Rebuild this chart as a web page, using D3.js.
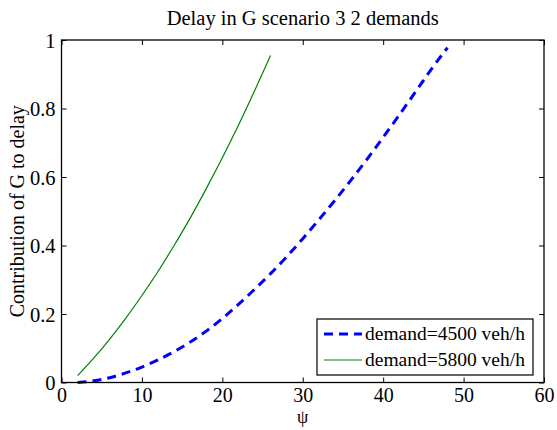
<!DOCTYPE html>
<html>
<head>
<meta charset="utf-8">
<script src="https://cdn.jsdelivr.net/npm/d3@7/dist/d3.min.js"></script>
<style>
  html, body { margin: 0; padding: 0; background: #fff; }
  svg { display: block; }
  text { font-family: "Liberation Serif", "Times New Roman", serif; fill: #000; }
</style>
</head>
<body>
<svg id="chart" width="557" height="430"></svg>
<script>
// ---- data ----
const title = "Delay in G scenario 3 2 demands";
const xLabel = "\u03C8";
const yLabel = "Contribution of G to delay";
const xTicks = [0, 10, 20, 30, 40, 50, 60];
const yTicks = [0, 0.2, 0.4, 0.6, 0.8, 1];
const yTickLabels = ["0", "0.2", "0.4", "0.6", "0.8", "1"];

const psi4500 = [2, 4, 6, 8, 10, 12, 14, 16, 18, 20, 22, 24, 26, 28, 30, 32, 34, 36, 38, 40, 42, 44, 46, 48];
const val4500 = [0.000, 0.005, 0.014, 0.028, 0.045, 0.066, 0.090, 0.118, 0.150, 0.187, 0.228, 0.272, 0.318, 0.367, 0.420, 0.475, 0.532, 0.591, 0.652, 0.716, 0.781, 0.848, 0.915, 0.978];

const psi5800 = [2, 4, 6, 8, 10, 12, 14, 16, 18, 20, 22, 24, 26];
const val5800 = [0.020, 0.071, 0.127, 0.188, 0.254, 0.324, 0.400, 0.480, 0.566, 0.656, 0.751, 0.851, 0.955];

const seriesNames = ["demand=4500 veh/h", "demand=5800 veh/h"];

// ---- layout ----
const svg = d3.select("#chart");
const L = 61.5, R = 544, T = 40, B = 382.5;
const x = d3.scaleLinear().domain([0, 60]).range([L, R]);
const y = d3.scaleLinear().domain([0, 1]).range([B, T]);

const tickLen = 5;
const axW = 1.3;

// series
const line = d3.line().x(d => x(d[0])).y(d => y(d[1])).curve(d3.curveMonotoneX);
const d4500 = psi4500.map((p, i) => [p, val4500[i]]);
const d5800 = psi5800.map((p, i) => [p, val5800[i]]);

svg.append("path").attr("d", line(d4500))
  .attr("fill", "none").attr("stroke", "#0000ff").attr("stroke-width", 3)
  .attr("stroke-dasharray", "9,6");
svg.append("path").attr("d", line(d5800))
  .attr("fill", "none").attr("stroke", "#008000").attr("stroke-width", 1.2);

// axes (ticks inward on all four sides)
const gB = svg.append("g").attr("transform", `translate(0,${B})`)
  .call(d3.axisBottom(x).tickValues(xTicks).tickSizeInner(-tickLen).tickSizeOuter(0).tickPadding(5));
const gT = svg.append("g").attr("transform", `translate(0,${T})`)
  .call(d3.axisTop(x).tickValues(xTicks).tickSizeInner(-tickLen).tickSizeOuter(0).tickFormat(""));
const gL = svg.append("g").attr("transform", `translate(${L},0)`)
  .call(d3.axisLeft(y).tickValues(yTicks).tickSizeInner(-tickLen).tickSizeOuter(0).tickPadding(6)
    .tickFormat((d, i) => yTickLabels[i]));
const gR = svg.append("g").attr("transform", `translate(${R},0)`)
  .call(d3.axisRight(y).tickValues(yTicks).tickSizeInner(-tickLen).tickSizeOuter(0).tickFormat(""));

[gB, gT, gL, gR].forEach(g => {
  g.select(".domain").remove();
  g.selectAll(".tick line").attr("stroke", "#000").attr("stroke-width", 1);
  g.selectAll(".tick text").style("font-family", '"Liberation Serif", serif').style("font-size", "20.5px").attr("fill", "#000");
});
gB.selectAll(".tick text").style("font-size", "20px").attr("dy", "0.72em");
gL.selectAll(".tick text").attr("dy", "0.35em");

// box
svg.append("rect").attr("x", L).attr("y", T).attr("width", R - L).attr("height", B - T)
  .attr("fill", "none").attr("stroke", "#000").attr("stroke-width", axW);

// title & labels
svg.append("text").attr("x", (L + R) / 2).attr("y", 25).attr("text-anchor", "middle")
  .style("font-size", "20.5px").text(title);
svg.append("text").attr("x", (L + R) / 2).attr("y", 423).attr("text-anchor", "middle")
  .style("font-size", "18px").text(xLabel);
svg.append("text").attr("transform", `translate(24,${(T + B) / 2}) rotate(-90)`).attr("text-anchor", "middle")
  .style("font-size", "20px").text(yLabel);

// legend
const lgX = 317, lgY = 319, lgW = 216, lgH = 56;
const lg = svg.append("g");
lg.append("rect").attr("x", lgX).attr("y", lgY).attr("width", lgW).attr("height", lgH)
  .attr("fill", "#fff").attr("stroke", "#000").attr("stroke-width", 1.2);
const rows = [lgY + 15, lgY + 41];
lg.append("line").attr("x1", lgX + 7).attr("x2", lgX + 45).attr("y1", rows[0]).attr("y2", rows[0])
  .attr("stroke", "#0000ff").attr("stroke-width", 3).attr("stroke-dasharray", "9,6");
lg.append("line").attr("x1", lgX + 7).attr("x2", lgX + 45).attr("y1", rows[1]).attr("y2", rows[1])
  .attr("stroke", "#008000").attr("stroke-width", 1.2);
seriesNames.forEach((n, i) => {
  lg.append("text").attr("x", lgX + 48).attr("y", rows[i]).attr("dy", "0.33em")
    .style("font-size", "19.5px").text(n);
});
</script>
</body>
</html>
